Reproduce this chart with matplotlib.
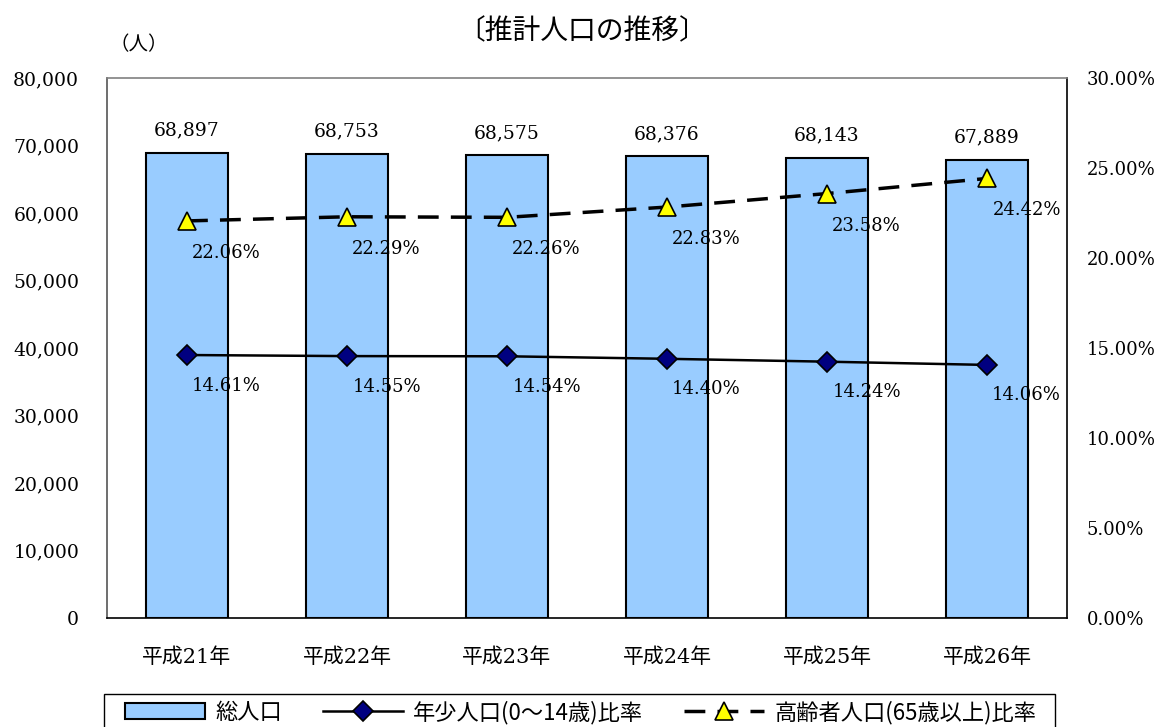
import numpy as np
import matplotlib.pyplot as plt
from matplotlib.patches import Rectangle
from matplotlib.ticker import FuncFormatter, MultipleLocator

years = ['平成21年', '平成22年', '平成23年', '平成24年', '平成25年', '平成26年']
total_pop = [68897, 68753, 68575, 68376, 68143, 67889]
young_rate = [14.61, 14.55, 14.54, 14.40, 14.24, 14.06]
old_rate = [22.06, 22.29, 22.26, 22.83, 23.58, 24.42]

num_font = ['DejaVu Serif', 'Noto Sans CJK JP']
jp_font = ['Noto Sans CJK JP', 'DejaVu Sans']

W, H = 1157, 727
fig = plt.figure(figsize=(W / 100, H / 100), dpi=100)
ax = fig.add_axes([107 / W, 109 / H, 960 / W, 540 / H])
x = np.arange(len(years))

bars = ax.bar(x, total_pop, width=0.51, color='#99CCFF', edgecolor='black',
              linewidth=1.5, label='総人口', zorder=2)
ax.set_xlim(-0.5, len(years) - 0.5)
ax.set_ylim(0, 80000)
ax.yaxis.set_major_locator(MultipleLocator(10000))
ax.yaxis.set_major_formatter(FuncFormatter(lambda v, p: f'{int(v):,}'))
ax.set_xticks(x)
ax.set_xticklabels(years, family=num_font, fontsize=15)
ax.tick_params(axis='x', length=0, pad=21)
ax.tick_params(axis='y', length=0, pad=20, labelsize=13.5)
for lab in ax.get_yticklabels():
    lab.set_family(num_font)

for xi, v in zip(x, total_pop):
    ax.annotate(f'{v:,}', (xi, v), xytext=(0, 16), textcoords='offset points',
                ha='center', va='center', family=num_font, fontsize=13.5)

ax.spines['top'].set_color('#808080')
ax.spines['left'].set_color('#555555')
ax.spines['bottom'].set_color('black')
ax.spines['right'].set_color('black')
for s in ax.spines.values():
    s.set_linewidth(1.2)

ax2 = ax.twinx()
ax2.set_ylim(0, 30)
ax2.yaxis.set_major_locator(MultipleLocator(5))
ax2.yaxis.set_major_formatter(FuncFormatter(lambda v, p: f'{v:.2f}%'))
ax2.tick_params(axis='y', length=0, pad=14, labelsize=13)
for lab in ax2.get_yticklabels():
    lab.set_family(num_font)
for s in ax2.spines.values():
    s.set_visible(False)

ax2.plot(x, young_rate, color='black', linewidth=1.8, marker='D', markersize=10,
         markerfacecolor='#000080', markeredgecolor='black', markeredgewidth=1.2,
         label='年少人口(0～14歳)比率', zorder=3)
ax2.plot(x, old_rate, color='black', linewidth=2.5, linestyle=(0, (6, 3.5)),
         marker='^', markersize=13, markerfacecolor='#FFFF00',
         markeredgecolor='black', markeredgewidth=1.2,
         label='高齢者人口(65歳以上)比率', zorder=3)

for xi, v in zip(x, young_rate):
    ax2.annotate(f'{v:.2f}%', (xi, v), xytext=(28.5, -22), textcoords='offset points',
                 ha='center', va='center', family=num_font, fontsize=13)
for xi, v in zip(x, old_rate):
    ax2.annotate(f'{v:.2f}%', (xi, v), xytext=(28.5, -23), textcoords='offset points',
                 ha='center', va='center', family=num_font, fontsize=13)

fig.text(582 / W, 1 - 31 / H, '〔推計人口の推移〕', ha='center', va='center',
         family=jp_font, fontsize=20)
fig.text(139 / W, 1 - 45 / H, '（人）', ha='center', va='center',
         family=jp_font, fontsize=14)

# legend box runs past the bottom edge, as in the original
fig.patches.append(Rectangle((104 / W, -20 / H), (1055 - 104) / W, (H - 694 + 20) / H,
                             transform=fig.transFigure, fill=False,
                             edgecolor='black', linewidth=1.0))
handles = [bars] + ax2.get_lines()
labels = ['総人口', '年少人口(0～14歳)比率', '高齢者人口(65歳以上)比率']
leg = fig.legend(handles, labels, loc='upper left',
                 bbox_to_anchor=(122 / W, 1 - 697 / H), ncol=3,
                 borderaxespad=0, frameon=False,
                 prop={'family': jp_font, 'size': 16}, handlelength=3.6,
                 handletextpad=0.45, columnspacing=1.85, borderpad=0.15)

fig.savefig('out.png', dpi=100)
